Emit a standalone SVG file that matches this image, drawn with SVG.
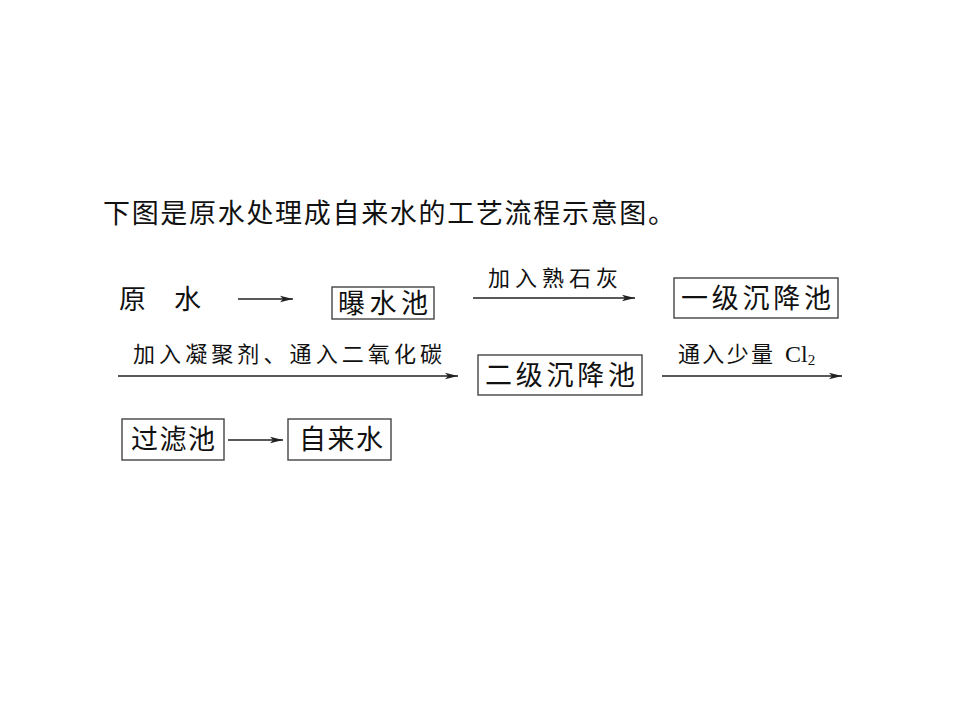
<svg xmlns="http://www.w3.org/2000/svg" width="960" height="720" viewBox="0 0 960 720">
<style>
text{font-family:"Noto Sans CJK SC","Liberation Serif",sans-serif;fill:#111;}
.t{font-size:27px;}
.n{font-size:27px;text-anchor:middle;}
.l{font-size:22px;}
.box{fill:#fff;stroke:#444;stroke-width:1.4;}
.c{stroke:#222;stroke-width:1.3;fill:none;marker-end:url(#ah);}
</style>
<defs>
<marker id="ah" markerUnits="userSpaceOnUse" markerWidth="14" markerHeight="8" refX="13" refY="4" orient="auto">
<path d="M0,0.8 L13,4 L0,7.2 L3,4 z" fill="#222"/>
</marker>
</defs>
<rect width="960" height="720" fill="#fff"/>
<text id="title" class="t" x="103" y="223" textLength="572" lengthAdjust="spacing">下图是原水处理成自来水的工艺流程示意图。</text>

<g id="raw">
<text class="t" x="119" y="309">原</text>
<text class="t" x="174" y="309">水</text>
</g>
<g id="n1">
<rect class="box" x="332" y="287" width="102" height="32"/>
<text class="n" x="383" y="313" textLength="90" lengthAdjust="spacing">曝水池</text>
</g>
<g id="n2">
<rect class="box" x="674" y="278" width="164" height="40"/>
<text class="n" x="756" y="308" textLength="150" lengthAdjust="spacing">一级沉降池</text>
</g>
<g id="n3">
<rect class="box" x="478" y="355" width="164" height="40"/>
<text class="n" x="560" y="385" textLength="150" lengthAdjust="spacing">二级沉降池</text>
</g>
<g id="n4">
<rect class="box" x="122" y="419" width="102" height="41"/>
<text class="n" x="173" y="449" textLength="84" lengthAdjust="spacing">过滤池</text>
</g>
<g id="n5">
<rect class="box" x="288" y="419" width="103" height="41"/>
<text class="n" x="341" y="449" textLength="84" lengthAdjust="spacing">自来水</text>
</g>

<g id="connectors">
<line class="c" x1="238" y1="299" x2="293" y2="299"/>
<line class="c" x1="473" y1="298" x2="635" y2="298"/>
<line class="c" x1="118" y1="376" x2="458" y2="376"/>
<line class="c" x1="662" y1="376" x2="842" y2="376"/>
<line class="c" x1="228" y1="440" x2="283" y2="440"/>
<text class="l" x="488" y="286" textLength="130" lengthAdjust="spacing">加入熟石灰</text>
<text class="l" x="133" y="362" textLength="309" lengthAdjust="spacing">加入凝聚剂、通入二氧化碳</text>
<text class="l" x="678" y="362"><tspan textLength="95" lengthAdjust="spacing">通入少量</tspan><tspan x="785" font-family="Liberation Serif" font-size="24">Cl</tspan><tspan font-family="Liberation Serif" font-size="15" dy="3">2</tspan></text>
</g>
</svg>
